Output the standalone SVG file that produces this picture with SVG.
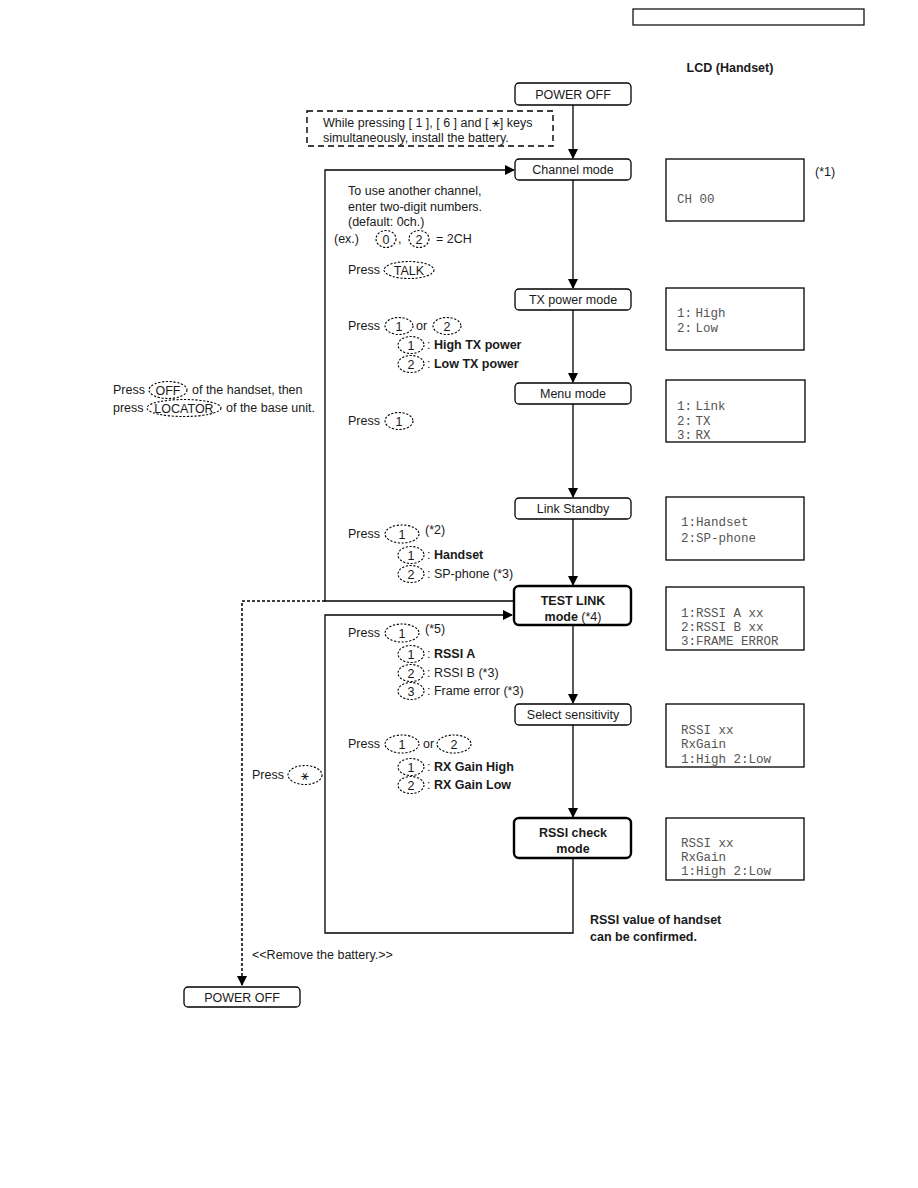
<svg xmlns="http://www.w3.org/2000/svg" width="918" height="1188" viewBox="0 0 918 1188">
<style>
.t{font-family:"Liberation Sans",Arial,sans-serif;font-size:12.5px;fill:#1a1a1a}
.b{font-weight:bold}
.c{text-anchor:middle}
.m{font-family:"Liberation Mono","Courier New",monospace;fill:#555;font-size:12.5px}
.n{word-spacing:-4px}
.box{fill:#fff;stroke:#000;stroke-width:1.3}
.thick{fill:#fff;stroke:#000;stroke-width:2.4}
.lcd{fill:#fff;stroke:#000;stroke-width:1.3}
.k{fill:none;stroke:#000;stroke-width:1.1;stroke-dasharray:2.2 1.6}
.ln{fill:none;stroke:#000;stroke-width:1.3}
.dl{fill:none;stroke:#000;stroke-width:1.5;stroke-dasharray:3 2}
</style>
<defs>
<marker id="ar" markerWidth="10" markerHeight="10" refX="9" refY="5" orient="auto" markerUnits="userSpaceOnUse">
<path d="M0,0 L10,5 L0,10 Z" fill="#000"/>
</marker>
</defs>
<rect width="918" height="1188" fill="#fff"/>
<rect x="633" y="9" width="231" height="16" fill="none" stroke="#000" stroke-width="1.2"/>
<text class="t b c" x="730" y="72" font-size="13.5">LCD (Handset)</text>

<g id="connectors">
<line class="ln" x1="573" y1="105" x2="573" y2="158" marker-end="url(#ar)"/>
<line class="ln" x1="573" y1="180" x2="573" y2="288" marker-end="url(#ar)"/>
<line class="ln" x1="573" y1="310" x2="573" y2="382" marker-end="url(#ar)"/>
<line class="ln" x1="573" y1="404" x2="573" y2="497" marker-end="url(#ar)"/>
<line class="ln" x1="573" y1="519" x2="573" y2="585" marker-end="url(#ar)"/>
<line class="ln" x1="573" y1="625" x2="573" y2="703" marker-end="url(#ar)"/>
<line class="ln" x1="573" y1="725" x2="573" y2="817" marker-end="url(#ar)"/>
<polyline class="ln" points="513,601 325,601 325,170 514,170" marker-end="url(#ar)"/>
<polyline class="ln" points="573,858 573,933 325,933 325,615 512,615" marker-end="url(#ar)"/>
<polyline class="dl" points="325,601 242,601 242,985" marker-end="url(#ar)"/>
</g>

<g id="power-off-top">
<rect class="box" x="515" y="83" width="116" height="22" rx="4"/>
<text class="t c" x="573" y="98.5">POWER OFF</text>
</g>
<g id="install-note">
<rect x="307" y="111" width="246" height="35" fill="#fff" stroke="#000" stroke-width="1.4" stroke-dasharray="6 4"/>
<text class="t" x="323" y="127">While pressing [ 1 ], [ 6 ] and [ <tspan font-family="DejaVu Sans">⚹</tspan>] keys</text>
<text class="t" x="323" y="142">simultaneously, install the battery.</text>
</g>
<g id="channel-mode">
<rect class="box" x="515" y="159" width="116" height="21" rx="4"/>
<text class="t c" x="573" y="174">Channel mode</text>
</g>
<g id="tx-power-mode">
<rect class="box" x="515" y="289" width="116" height="21" rx="4"/>
<text class="t c" x="573" y="304">TX power mode</text>
</g>
<g id="menu-mode">
<rect class="box" x="515" y="383" width="116" height="21" rx="4"/>
<text class="t c" x="573" y="398">Menu mode</text>
</g>
<g id="link-standby">
<rect class="box" x="515" y="498" width="116" height="21" rx="4"/>
<text class="t c" x="573" y="513">Link Standby</text>
</g>
<g id="test-link">
<rect class="thick" x="514" y="586" width="117" height="39" rx="5"/>
<text class="t c b" x="573" y="605">TEST LINK</text>
<text class="t c" x="573" y="621"><tspan font-weight="bold">mode</tspan> (*4)</text>
</g>
<g id="select-sensitivity">
<rect class="box" x="515" y="704" width="116" height="21" rx="4"/>
<text class="t c" x="573" y="719">Select sensitivity</text>
</g>
<g id="rssi-check">
<rect class="thick" x="514" y="818" width="117" height="40" rx="5"/>
<text class="t c b" x="573" y="837">RSSI check</text>
<text class="t c b" x="573" y="853">mode</text>
</g>
<g id="power-off-bottom">
<rect class="box" x="184" y="987" width="116" height="20" rx="4"/>
<text class="t c" x="242" y="1001.5">POWER OFF</text>
</g>

<g id="lcd-1">
<rect class="lcd" x="666" y="159" width="138" height="62"/>
<text class="t" x="815" y="176">(*1)</text>
<text class="m" x="677" y="203">CH 00</text>
</g>
<g id="lcd-2">
<rect class="lcd" x="666" y="288" width="138" height="62"/>
<text class="m n" x="677" y="317">1: High</text>
<text class="m n" x="677" y="332">2: Low</text>
</g>
<g id="lcd-3">
<rect class="lcd" x="666" y="380" width="139" height="62"/>
<text class="m n" x="677" y="410">1: Link</text>
<text class="m n" x="677" y="425">2: TX</text>
<text class="m n" x="677" y="439">3: RX</text>
</g>
<g id="lcd-4">
<rect class="lcd" x="666" y="497" width="138" height="63"/>
<text class="m" x="681" y="526">1:Handset</text>
<text class="m" x="681" y="542">2:SP-phone</text>
</g>
<g id="lcd-5">
<rect class="lcd" x="666" y="587" width="138" height="63"/>
<text class="m" x="681" y="617">1:RSSI A xx</text>
<text class="m" x="681" y="631">2:RSSI B xx</text>
<text class="m" x="681" y="645">3:FRAME ERROR</text>
</g>
<g id="lcd-6">
<rect class="lcd" x="666" y="704" width="138" height="63"/>
<text class="m" x="681" y="734">RSSI xx</text>
<text class="m" x="681" y="748">RxGain</text>
<text class="m" x="681" y="763">1:High 2:Low</text>
</g>
<g id="lcd-7">
<rect class="lcd" x="666" y="818" width="138" height="62"/>
<text class="m" x="681" y="847">RSSI xx</text>
<text class="m" x="681" y="861">RxGain</text>
<text class="m" x="681" y="875">1:High 2:Low</text>
</g>

<g id="channel-notes">
<text class="t" x="348" y="195">To use another channel,</text>
<text class="t" x="348" y="211">enter two-digit numbers.</text>
<text class="t" x="348" y="226">(default: 0ch.)</text>
<text class="t" x="334" y="243">(ex.)</text>
<ellipse class="k" cx="386" cy="239" rx="10" ry="8.5"/>
<text class="t c" x="386" y="243.5">0</text>
<text class="t" x="398" y="243">,</text>
<ellipse class="k" cx="419" cy="239" rx="10" ry="8.5"/>
<text class="t c" x="419" y="243.5">2</text>
<text class="t" x="436" y="243">= 2CH</text>
<text class="t" x="348" y="274">Press</text>
<ellipse class="k" cx="409" cy="270" rx="25" ry="8.5"/>
<text class="t c" x="409" y="274.5">TALK</text>
</g>
<g id="tx-notes">
<text class="t" x="348" y="330">Press</text>
<ellipse class="k" cx="399" cy="326" rx="14" ry="8.5"/>
<text class="t c" x="399" y="330.5">1</text>
<text class="t" x="416" y="330">or</text>
<ellipse class="k" cx="447" cy="326" rx="14" ry="8.5"/>
<text class="t c" x="447" y="330.5">2</text>
<ellipse class="k" cx="411" cy="345" rx="13" ry="8.5"/>
<text class="t c" x="411" y="349.5">1</text>
<text class="t" x="427" y="349">: <tspan font-weight="bold">High TX power</tspan></text>
<ellipse class="k" cx="411" cy="364" rx="13" ry="8.5"/>
<text class="t c" x="411" y="368.5">2</text>
<text class="t" x="427" y="368">: <tspan font-weight="bold">Low TX power</tspan></text>
</g>
<g id="menu-notes">
<text class="t" x="348" y="425">Press</text>
<ellipse class="k" cx="399" cy="421" rx="14" ry="8.5"/>
<text class="t c" x="399" y="425.5">1</text>
</g>
<g id="link-notes">
<text class="t" x="348" y="538">Press</text>
<ellipse class="k" cx="402" cy="534" rx="17" ry="9"/>
<text class="t c" x="402" y="538.5">1</text>
<text class="t" x="425" y="534">(*2)</text>
<ellipse class="k" cx="411" cy="555" rx="13" ry="8.5"/>
<text class="t c" x="411" y="559.5">1</text>
<text class="t" x="427" y="559">: <tspan font-weight="bold">Handset</tspan></text>
<ellipse class="k" cx="411" cy="574" rx="13" ry="8.5"/>
<text class="t c" x="411" y="578.5">2</text>
<text class="t" x="427" y="578">: SP-phone (*3)</text>
</g>
<g id="test-notes">
<text class="t" x="348" y="637">Press</text>
<ellipse class="k" cx="402" cy="633" rx="17" ry="9"/>
<text class="t c" x="402" y="637.5">1</text>
<text class="t" x="425" y="633">(*5)</text>
<ellipse class="k" cx="411" cy="654" rx="13" ry="8.5"/>
<text class="t c" x="411" y="658.5">1</text>
<text class="t" x="427" y="658">: <tspan font-weight="bold">RSSI A</tspan></text>
<ellipse class="k" cx="411" cy="673" rx="13" ry="8.5"/>
<text class="t c" x="411" y="677.5">2</text>
<text class="t" x="427" y="677">: RSSI B (*3)</text>
<ellipse class="k" cx="411" cy="691" rx="13" ry="8.5"/>
<text class="t c" x="411" y="695.5">3</text>
<text class="t" x="427" y="695">: Frame error (*3)</text>
</g>
<g id="select-notes">
<text class="t" x="348" y="748">Press</text>
<ellipse class="k" cx="402" cy="744" rx="17" ry="9"/>
<text class="t c" x="402" y="748.5">1</text>
<text class="t" x="423" y="748">or</text>
<ellipse class="k" cx="454" cy="744" rx="17" ry="9"/>
<text class="t c" x="454" y="748.5">2</text>
<ellipse class="k" cx="411" cy="767" rx="13" ry="8.5"/>
<text class="t c" x="411" y="771.5">1</text>
<text class="t" x="427" y="771">: <tspan font-weight="bold">RX Gain High</tspan></text>
<ellipse class="k" cx="411" cy="785" rx="13" ry="8.5"/>
<text class="t c" x="411" y="789.5">2</text>
<text class="t" x="427" y="789">: <tspan font-weight="bold">RX Gain Low</tspan></text>
</g>
<g id="star-note">
<text class="t" x="252" y="779">Press</text>
<ellipse class="k" cx="305" cy="775" rx="17" ry="9.5"/>
<text class="t c" x="305" y="780" font-family="DejaVu Sans">⚹</text>
</g>
<g id="off-note">
<text class="t" x="113" y="394">Press</text>
<ellipse class="k" cx="168" cy="390" rx="19" ry="8.5"/>
<text class="t c" x="168" y="394.5">OFF</text>
<text class="t" x="192" y="394">of the handset, then</text>
<text class="t" x="113" y="412">press</text>
<ellipse class="k" cx="184" cy="408" rx="37" ry="8.5"/>
<text class="t c" x="184" y="412.5">LOCATOR</text>
<text class="t" x="226" y="412">of the base unit.</text>
</g>
<g id="rssi-note">
<text class="t b" x="590" y="924">RSSI value of handset</text>
<text class="t b" x="590" y="941">can be confirmed.</text>
</g>
<text class="t" x="252" y="959">&lt;&lt;Remove the battery.&gt;&gt;</text>
</svg>
